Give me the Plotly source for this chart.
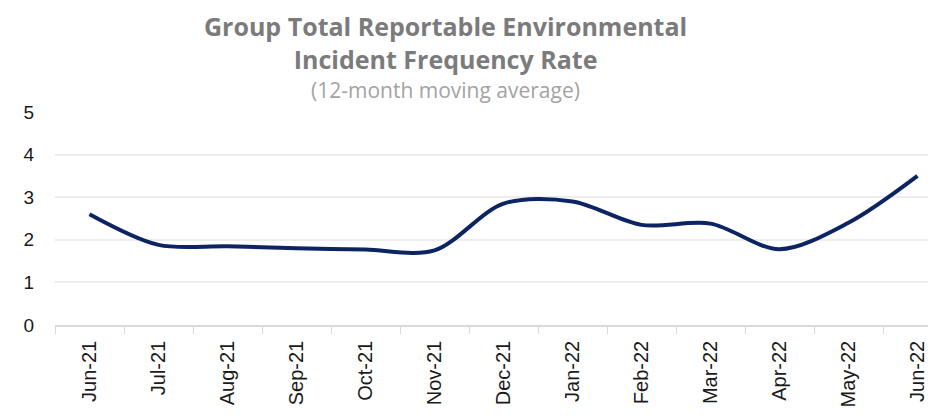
import plotly.graph_objects as go

months = ["Jun-21", "Jul-21", "Aug-21", "Sep-21", "Oct-21", "Nov-21", "Dec-21",
          "Jan-22", "Feb-22", "Mar-22", "Apr-22", "May-22", "Jun-22"]
rate = [2.6, 1.88, 1.85, 1.8, 1.77, 1.75, 2.85, 2.9, 2.35, 2.38, 1.78, 2.4, 3.5]

fig = go.Figure()
fig.add_trace(go.Scatter(
    x=months,
    y=rate,
    mode="lines",
    line=dict(color="#0c2461", width=4, shape="spline", smoothing=0.9),
    showlegend=False
))

# page has an 8px body margin, so margins are offset by 8
L, T, B = 47, 104, 101
plot_w = 936 - L
plot_h = 418 - T - B

ann = []
for txt, ypix, size, col, anchor in [
    ("<b>Group Total Reportable Environmental<br>Incident Frequency Rate</b>",
     8, 25, "#7b7b7b", "top"),
    ("(12-month moving average)", 90, 21, "#a3a3a3", "middle"),
]:
    ann.append(dict(
        text=txt, x=(445 - 8 - L) / plot_w, xref="paper", xanchor="center",
        y=(325 - ypix) / plot_h, yref="paper", yanchor=anchor,
        showarrow=False, borderpad=0,
        font=dict(family="Open Sans", size=size, color=col)
    ))

fig.update_layout(
    width=936,
    height=418,
    margin=dict(l=L, r=0, t=T, b=B, autoexpand=False),
    paper_bgcolor="white",
    plot_bgcolor="white",
    annotations=ann,
)

fig.update_xaxes(
    type="category",
    range=[-0.5, -0.5 + plot_w / 69.0],
    tickangle=-90,
    tickfont=dict(family="Liberation Sans", size=20, color="#1a1a1a"),
    showgrid=False,
    showline=True,
    linecolor="#d9d9d9",
    linewidth=1.5,
    ticks="outside",
    tickson="boundaries",
    ticklen=7,
    tickcolor="#d9d9d9",
    ticklabelstandoff=6,
)
fig.update_yaxes(
    range=[0, 5],
    tickvals=[0, 1, 2, 3, 4, 5],
    tickfont=dict(family="Liberation Sans", size=19, color="#1a1a1a"),
    showgrid=True,
    gridcolor="#ededed",
    gridwidth=1.5,
    zeroline=False,
    showline=False,
    ticklabelstandoff=20,
)

fig.write_html("out.html")
